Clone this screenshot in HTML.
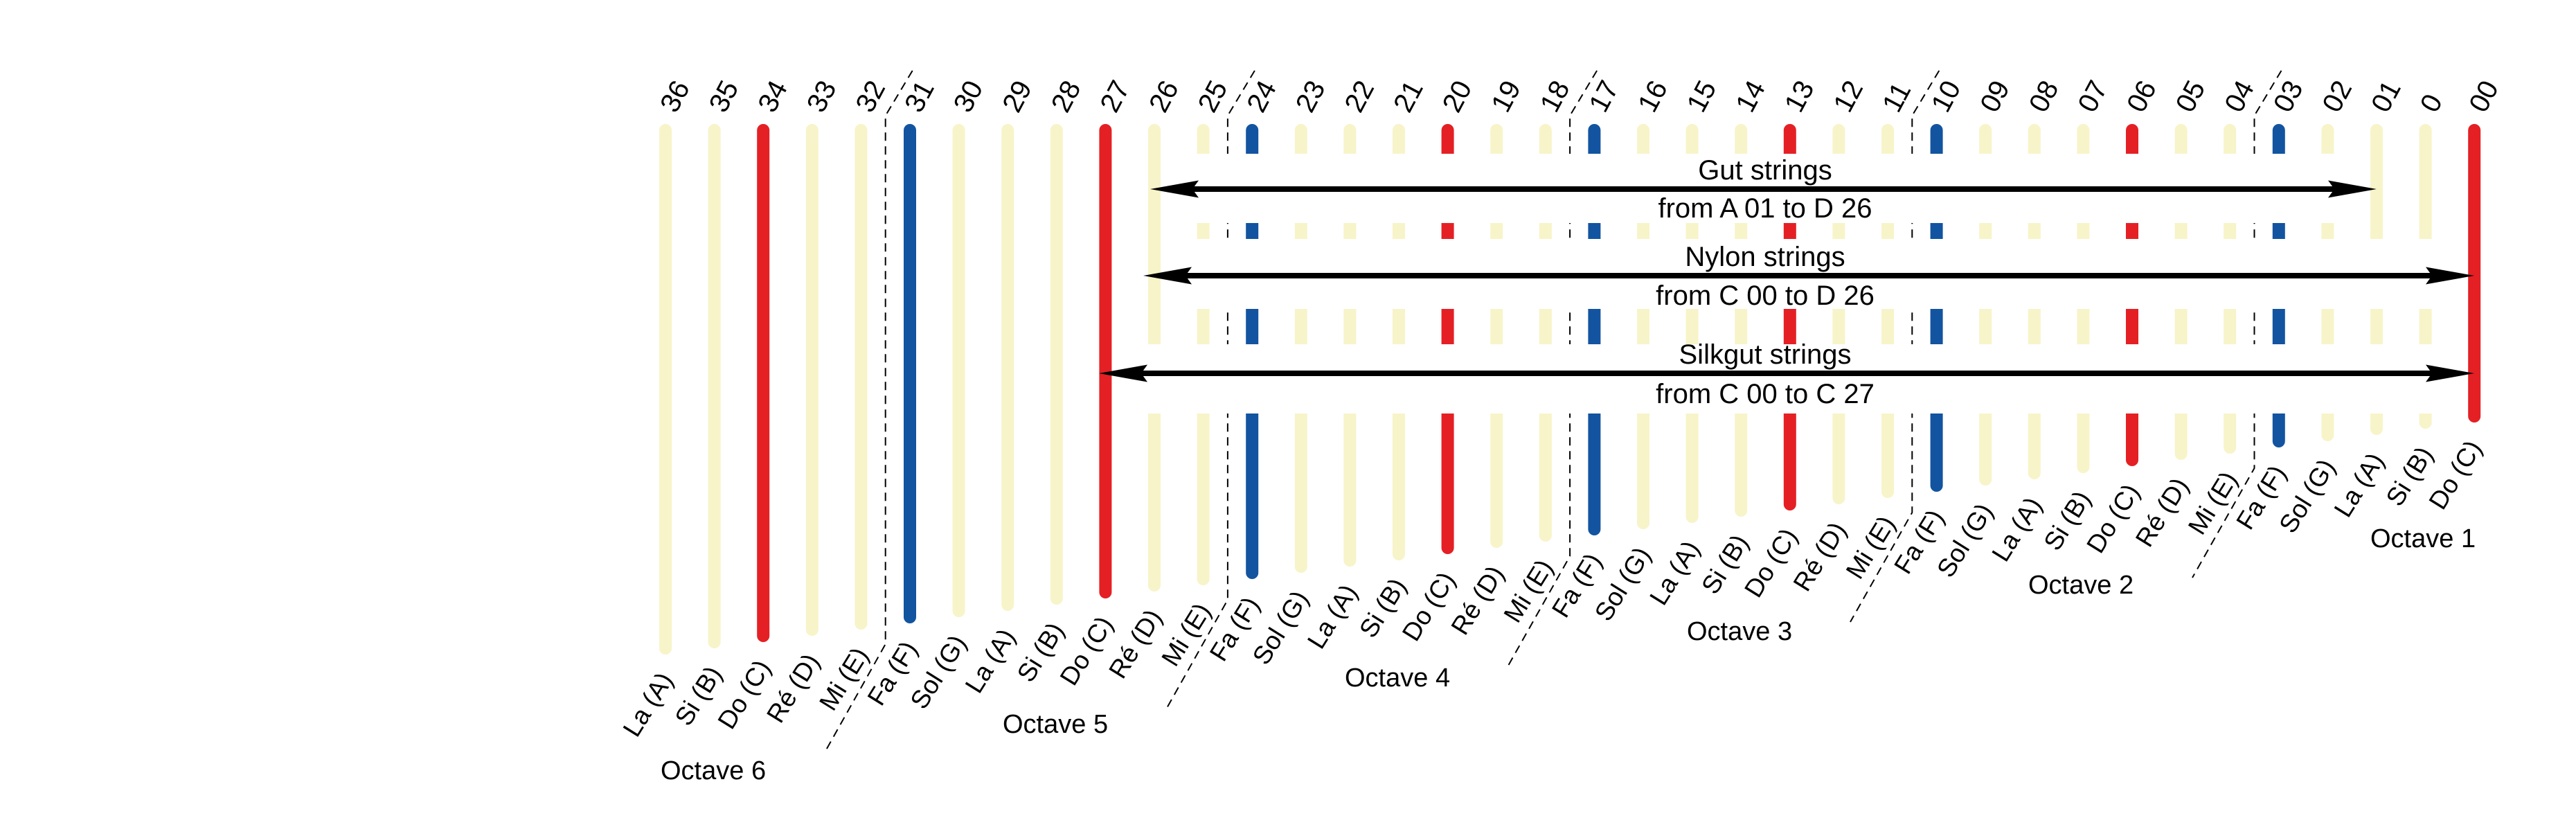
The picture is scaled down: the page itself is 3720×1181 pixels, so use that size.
<!DOCTYPE html>
<html><head><meta charset="utf-8"><style>
html,body{margin:0;padding:0;background:#fff;}
svg{display:block;}
text{font-family:"Liberation Sans",sans-serif;fill:#000;}
</style></head><body>
<svg width="3720" height="1181" viewBox="0 0 3720 1181" xmlns="http://www.w3.org/2000/svg">
<rect width="3720" height="1181" fill="#fff"/>
<g stroke-width="18" stroke-linecap="round">
<line x1="961" y1="188" x2="961" y2="936" stroke="#F7F4C9"/>
<line x1="1031.6" y1="188" x2="1031.6" y2="927" stroke="#F7F4C9"/>
<line x1="1102.2" y1="188" x2="1102.2" y2="918" stroke="#E42024"/>
<line x1="1172.8" y1="188" x2="1172.8" y2="909" stroke="#F7F4C9"/>
<line x1="1243.4" y1="188" x2="1243.4" y2="900" stroke="#F7F4C9"/>
<line x1="1314" y1="188" x2="1314" y2="891" stroke="#1254A0"/>
<line x1="1384.6" y1="188" x2="1384.6" y2="882" stroke="#F7F4C9"/>
<line x1="1455.2" y1="188" x2="1455.2" y2="873" stroke="#F7F4C9"/>
<line x1="1525.8" y1="188" x2="1525.8" y2="864" stroke="#F7F4C9"/>
<line x1="1596.4" y1="188" x2="1596.4" y2="855" stroke="#E42024"/>
<line x1="1667" y1="188" x2="1667" y2="845" stroke="#F7F4C9"/>
<line x1="1737.6" y1="188" x2="1737.6" y2="836" stroke="#F7F4C9"/>
<line x1="1808.2" y1="188" x2="1808.2" y2="827" stroke="#1254A0"/>
<line x1="1878.8" y1="188" x2="1878.8" y2="818" stroke="#F7F4C9"/>
<line x1="1949.4" y1="188" x2="1949.4" y2="809" stroke="#F7F4C9"/>
<line x1="2020" y1="188" x2="2020" y2="800" stroke="#F7F4C9"/>
<line x1="2090.6" y1="188" x2="2090.6" y2="791" stroke="#E42024"/>
<line x1="2161.2" y1="188" x2="2161.2" y2="782" stroke="#F7F4C9"/>
<line x1="2231.8" y1="188" x2="2231.8" y2="773" stroke="#F7F4C9"/>
<line x1="2302.4" y1="188" x2="2302.4" y2="764" stroke="#1254A0"/>
<line x1="2373" y1="188" x2="2373" y2="755" stroke="#F7F4C9"/>
<line x1="2443.6" y1="188" x2="2443.6" y2="746" stroke="#F7F4C9"/>
<line x1="2514.2" y1="188" x2="2514.2" y2="737" stroke="#F7F4C9"/>
<line x1="2584.8" y1="188" x2="2584.8" y2="728" stroke="#E42024"/>
<line x1="2655.4" y1="188" x2="2655.4" y2="719" stroke="#F7F4C9"/>
<line x1="2726" y1="188" x2="2726" y2="710" stroke="#F7F4C9"/>
<line x1="2796.6" y1="188" x2="2796.6" y2="701" stroke="#1254A0"/>
<line x1="2867.2" y1="188" x2="2867.2" y2="692" stroke="#F7F4C9"/>
<line x1="2937.8" y1="188" x2="2937.8" y2="683" stroke="#F7F4C9"/>
<line x1="3008.4" y1="188" x2="3008.4" y2="674" stroke="#F7F4C9"/>
<line x1="3079" y1="188" x2="3079" y2="664" stroke="#E42024"/>
<line x1="3149.6" y1="188" x2="3149.6" y2="655" stroke="#F7F4C9"/>
<line x1="3220.2" y1="188" x2="3220.2" y2="646" stroke="#F7F4C9"/>
<line x1="3290.8" y1="188" x2="3290.8" y2="637" stroke="#1254A0"/>
<line x1="3361.4" y1="188" x2="3361.4" y2="628" stroke="#F7F4C9"/>
<line x1="3432" y1="188" x2="3432" y2="619" stroke="#F7F4C9"/>
<line x1="3502.6" y1="188" x2="3502.6" y2="610" stroke="#F7F4C9"/>
<line x1="3573.2" y1="188" x2="3573.2" y2="601" stroke="#E42024"/>
</g>
<g stroke="#000" stroke-width="2" stroke-dasharray="12,8" fill="none">
<polyline points="1317.7,102 1278.7,167 1278.7,930 1190,1088"/>
<polyline points="1811.9,102 1772.9,167 1772.9,866 1684,1024"/>
<polyline points="2306.1,102 2267.1,167 2267.1,803 2178,961"/>
<polyline points="2800.3,102 2761.3,167 2761.3,740 2672,898"/>
<polyline points="3294.5,102 3255.5,167 3255.5,676 3166,834"/>
</g>
<rect x="1700" y="222" width="1710" height="100" fill="#fff"/>
<rect x="1700" y="345" width="1840" height="101" fill="#fff"/>
<rect x="1630" y="497" width="1910" height="100" fill="#fff"/>
<g fill="#000" stroke="#000">
<line x1="1720" y1="273" x2="3373" y2="273" stroke-width="8"/>
<polygon points="1661,273 1731,260.5 1722,273 1731,285.5" stroke="none"/>
<polygon points="3432,273 3362,260.5 3371,273 3362,285.5" stroke="none"/>
<line x1="1710" y1="398" x2="3514" y2="398" stroke-width="8"/>
<polygon points="1651,398 1721,385.5 1712,398 1721,410.5" stroke="none"/>
<polygon points="3573,398 3503,385.5 3512,398 3503,410.5" stroke="none"/>
<line x1="1646" y1="539" x2="3514" y2="539" stroke-width="8"/>
<polygon points="1587,539 1657,526.5 1648,539 1657,551.5" stroke="none"/>
<polygon points="3573,539 3503,526.5 3512,539 3503,551.5" stroke="none"/>
</g>
<g font-size="40" text-anchor="middle">
<text x="2549" y="259">Gut strings</text>
<text x="2549" y="314">from A 01 to D 26</text>
<text x="2549" y="384">Nylon strings</text>
<text x="2549" y="440">from C 00 to D 26</text>
<text x="2549" y="525">Silkgut strings</text>
<text x="2549" y="582">from C 00 to C 27</text>
</g>
<g font-size="40">
<text transform="translate(976,165) rotate(-62)">36</text>
<text transform="translate(1046.6,165) rotate(-62)">35</text>
<text transform="translate(1117.2,165) rotate(-62)">34</text>
<text transform="translate(1187.8,165) rotate(-62)">33</text>
<text transform="translate(1258.4,165) rotate(-62)">32</text>
<text transform="translate(1329,165) rotate(-62)">31</text>
<text transform="translate(1399.6,165) rotate(-62)">30</text>
<text transform="translate(1470.2,165) rotate(-62)">29</text>
<text transform="translate(1540.8,165) rotate(-62)">28</text>
<text transform="translate(1611.4,165) rotate(-62)">27</text>
<text transform="translate(1682,165) rotate(-62)">26</text>
<text transform="translate(1752.6,165) rotate(-62)">25</text>
<text transform="translate(1823.2,165) rotate(-62)">24</text>
<text transform="translate(1893.8,165) rotate(-62)">23</text>
<text transform="translate(1964.4,165) rotate(-62)">22</text>
<text transform="translate(2035,165) rotate(-62)">21</text>
<text transform="translate(2105.6,165) rotate(-62)">20</text>
<text transform="translate(2176.2,165) rotate(-62)">19</text>
<text transform="translate(2246.8,165) rotate(-62)">18</text>
<text transform="translate(2317.4,165) rotate(-62)">17</text>
<text transform="translate(2388,165) rotate(-62)">16</text>
<text transform="translate(2458.6,165) rotate(-62)">15</text>
<text transform="translate(2529.2,165) rotate(-62)">14</text>
<text transform="translate(2599.8,165) rotate(-62)">13</text>
<text transform="translate(2670.4,165) rotate(-62)">12</text>
<text transform="translate(2741,165) rotate(-62)">11</text>
<text transform="translate(2811.6,165) rotate(-62)">10</text>
<text transform="translate(2882.2,165) rotate(-62)">09</text>
<text transform="translate(2952.8,165) rotate(-62)">08</text>
<text transform="translate(3023.4,165) rotate(-62)">07</text>
<text transform="translate(3094,165) rotate(-62)">06</text>
<text transform="translate(3164.6,165) rotate(-62)">05</text>
<text transform="translate(3235.2,165) rotate(-62)">04</text>
<text transform="translate(3305.8,165) rotate(-62)">03</text>
<text transform="translate(3376.4,165) rotate(-62)">02</text>
<text transform="translate(3447,165) rotate(-62)">01</text>
<text transform="translate(3517.6,165) rotate(-62)">0</text>
<text transform="translate(3588.2,165) rotate(-62)">00</text>
</g>
<g font-size="37" text-anchor="end">
<text transform="translate(973,981) rotate(-58)">La (A)</text>
<text transform="translate(1043.6,972) rotate(-58)">Si (B)</text>
<text transform="translate(1114.2,963) rotate(-58)">Do (C)</text>
<text transform="translate(1184.8,954) rotate(-58)">Ré (D)</text>
<text transform="translate(1255.4,945) rotate(-58)">Mi (E)</text>
<text transform="translate(1326,936) rotate(-58)">Fa (F)</text>
<text transform="translate(1396.6,927) rotate(-58)">Sol (G)</text>
<text transform="translate(1467.2,918) rotate(-58)">La (A)</text>
<text transform="translate(1537.8,909) rotate(-58)">Si (B)</text>
<text transform="translate(1608.4,900) rotate(-58)">Do (C)</text>
<text transform="translate(1679,890) rotate(-58)">Ré (D)</text>
<text transform="translate(1749.6,881) rotate(-58)">Mi (E)</text>
<text transform="translate(1820.2,872) rotate(-58)">Fa (F)</text>
<text transform="translate(1890.8,863) rotate(-58)">Sol (G)</text>
<text transform="translate(1961.4,854) rotate(-58)">La (A)</text>
<text transform="translate(2032,845) rotate(-58)">Si (B)</text>
<text transform="translate(2102.6,836) rotate(-58)">Do (C)</text>
<text transform="translate(2173.2,827) rotate(-58)">Ré (D)</text>
<text transform="translate(2243.8,818) rotate(-58)">Mi (E)</text>
<text transform="translate(2314.4,809) rotate(-58)">Fa (F)</text>
<text transform="translate(2385,800) rotate(-58)">Sol (G)</text>
<text transform="translate(2455.6,791) rotate(-58)">La (A)</text>
<text transform="translate(2526.2,782) rotate(-58)">Si (B)</text>
<text transform="translate(2596.8,773) rotate(-58)">Do (C)</text>
<text transform="translate(2667.4,764) rotate(-58)">Ré (D)</text>
<text transform="translate(2738,755) rotate(-58)">Mi (E)</text>
<text transform="translate(2808.6,746) rotate(-58)">Fa (F)</text>
<text transform="translate(2879.2,737) rotate(-58)">Sol (G)</text>
<text transform="translate(2949.8,728) rotate(-58)">La (A)</text>
<text transform="translate(3020.4,719) rotate(-58)">Si (B)</text>
<text transform="translate(3091,709) rotate(-58)">Do (C)</text>
<text transform="translate(3161.6,700) rotate(-58)">Ré (D)</text>
<text transform="translate(3232.2,691) rotate(-58)">Mi (E)</text>
<text transform="translate(3302.8,682) rotate(-58)">Fa (F)</text>
<text transform="translate(3373.4,673) rotate(-58)">Sol (G)</text>
<text transform="translate(3444,664) rotate(-58)">La (A)</text>
<text transform="translate(3514.6,655) rotate(-58)">Si (B)</text>
<text transform="translate(3585.2,646) rotate(-58)">Do (C)</text>
</g>
<g font-size="38">
<text x="954" y="1125">Octave 6</text>
<text x="1448" y="1058">Octave 5</text>
<text x="1942" y="991">Octave 4</text>
<text x="2436" y="924">Octave 3</text>
<text x="2929" y="857">Octave 2</text>
<text x="3423" y="790">Octave 1</text>
</g>
</svg>
</body></html>
